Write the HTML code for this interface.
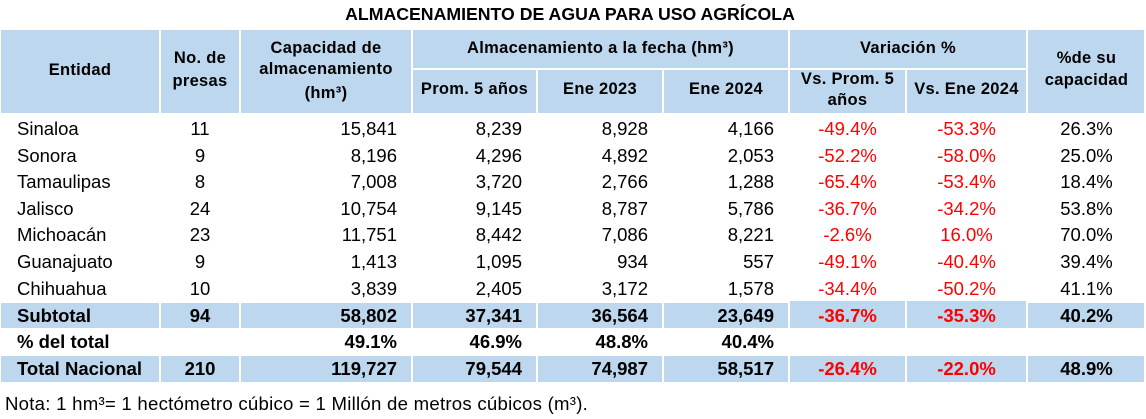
<!DOCTYPE html>
<html>
<head>
<meta charset="utf-8">
<style>
*{margin:0;padding:0;box-sizing:border-box}
html,body{width:1146px;height:419px;background:#fff;overflow:hidden}
body{position:relative;font-family:"Liberation Sans",Arial,sans-serif;color:#000}
.b{position:absolute;background:#BDD7EE}
.t{position:absolute;white-space:nowrap}
.h{position:absolute;font-weight:bold;font-size:16.5px;letter-spacing:0.3px;white-space:nowrap;text-align:center;line-height:22px;height:22px}
.row{position:absolute;left:0;width:1146px;font-size:18.5px}
.row span{position:absolute;top:0;height:100%;white-space:nowrap}
.c0{left:17px;width:140px;text-align:left}
.c1{left:160px;width:80px;text-align:center}
.c2{left:240px;width:157px;text-align:right}
.c3{left:412px;width:110px;text-align:right}
.c4{left:537px;width:111px;text-align:right}
.c5{left:663px;width:111px;text-align:right}
.c6{left:789px;width:117px;text-align:center}
.c7{left:906px;width:121px;text-align:center}
.c8{left:1027px;width:119px;text-align:center}
.r{color:#FF0000}
.bold{font-weight:bold}
</style>
</head>
<body>
<div class="t" style="left:0;width:1140px;top:3px;line-height:23px;font-size:17.7px;font-weight:bold;text-align:center;">ALMACENAMIENTO DE AGUA PARA USO AGRÍCOLA</div>

<!-- header backgrounds -->
<div class="b" style="left:1px;top:30px;width:158px;height:83px"></div>
<div class="b" style="left:161px;top:30px;width:78px;height:83px"></div>
<div class="b" style="left:241px;top:30px;width:170px;height:83px"></div>
<div class="b" style="left:413px;top:30px;width:375px;height:38px"></div>
<div class="b" style="left:413px;top:70px;width:123px;height:43px"></div>
<div class="b" style="left:538px;top:70px;width:124px;height:43px"></div>
<div class="b" style="left:664px;top:70px;width:124px;height:43px"></div>
<div class="b" style="left:790px;top:30px;width:236px;height:38px"></div>
<div class="b" style="left:790px;top:70px;width:115px;height:43px"></div>
<div class="b" style="left:907px;top:70px;width:119px;height:43px"></div>
<div class="b" style="left:1028px;top:30px;width:116px;height:83px"></div>

<!-- header text -->
<div class="h" style="left:0;width:160px;top:59px">Entidad</div>
<div class="h" style="left:160px;width:80px;top:47px">No. de</div>
<div class="h" style="left:160px;width:80px;top:70px">presas</div>
<div class="h" style="left:241px;width:170px;top:37px">Capacidad de</div>
<div class="h" style="left:241px;width:170px;top:58px">almacenamiento</div>
<div class="h" style="left:241px;width:170px;top:82px">(hm³)</div>
<div class="h" style="left:412px;width:377px;top:37px">Almacenamiento a la fecha (hm³)</div>
<div class="h" style="left:412px;width:125px;top:78px">Prom. 5 años</div>
<div class="h" style="left:537px;width:126px;top:78px">Ene 2023</div>
<div class="h" style="left:663px;width:126px;top:78px">Ene 2024</div>
<div class="h" style="left:789px;width:238px;top:37px">Variación %</div>
<div class="h" style="left:789px;width:117px;top:68px">Vs. Prom. 5</div>
<div class="h" style="left:789px;width:117px;top:89px">años</div>
<div class="h" style="left:906px;width:121px;top:78px">Vs. Ene 2024</div>
<div class="h" style="left:1027px;width:119px;top:47px">%de su</div>
<div class="h" style="left:1027px;width:119px;top:69px">capacidad</div>

<!-- body rows -->
<div class="row" style="top:116px;height:26.6px;line-height:26.6px">
<span class="c0">Sinaloa</span><span class="c1">11</span><span class="c2">15,841</span><span class="c3">8,239</span><span class="c4">8,928</span><span class="c5">4,166</span><span class="c6 r">-49.4%</span><span class="c7 r">-53.3%</span><span class="c8">26.3%</span>
</div>
<div class="row" style="top:142.6px;height:26.6px;line-height:26.6px">
<span class="c0">Sonora</span><span class="c1">9</span><span class="c2">8,196</span><span class="c3">4,296</span><span class="c4">4,892</span><span class="c5">2,053</span><span class="c6 r">-52.2%</span><span class="c7 r">-58.0%</span><span class="c8">25.0%</span>
</div>
<div class="row" style="top:169.2px;height:26.6px;line-height:26.6px">
<span class="c0">Tamaulipas</span><span class="c1">8</span><span class="c2">7,008</span><span class="c3">3,720</span><span class="c4">2,766</span><span class="c5">1,288</span><span class="c6 r">-65.4%</span><span class="c7 r">-53.4%</span><span class="c8">18.4%</span>
</div>
<div class="row" style="top:195.8px;height:26.6px;line-height:26.6px">
<span class="c0">Jalisco</span><span class="c1">24</span><span class="c2">10,754</span><span class="c3">9,145</span><span class="c4">8,787</span><span class="c5">5,786</span><span class="c6 r">-36.7%</span><span class="c7 r">-34.2%</span><span class="c8">53.8%</span>
</div>
<div class="row" style="top:222.4px;height:26.6px;line-height:26.6px">
<span class="c0">Michoacán</span><span class="c1">23</span><span class="c2">11,751</span><span class="c3">8,442</span><span class="c4">7,086</span><span class="c5">8,221</span><span class="c6 r">-2.6%</span><span class="c7 r">16.0%</span><span class="c8">70.0%</span>
</div>
<div class="row" style="top:249px;height:26.6px;line-height:26.6px">
<span class="c0">Guanajuato</span><span class="c1">9</span><span class="c2">1,413</span><span class="c3">1,095</span><span class="c4">934</span><span class="c5">557</span><span class="c6 r">-49.1%</span><span class="c7 r">-40.4%</span><span class="c8">39.4%</span>
</div>
<div class="row" style="top:275.6px;height:26.6px;line-height:26.6px">
<span class="c0">Chihuahua</span><span class="c1">10</span><span class="c2">3,839</span><span class="c3">2,405</span><span class="c4">3,172</span><span class="c5">1,578</span><span class="c6 r">-34.4%</span><span class="c7 r">-50.2%</span><span class="c8">41.1%</span>
</div>

<!-- subtotal backgrounds -->
<div class="b" style="left:1px;top:303px;width:158px;height:25px"></div>
<div class="b" style="left:161px;top:303px;width:78px;height:25px"></div>
<div class="b" style="left:241px;top:303px;width:170px;height:25px"></div>
<div class="b" style="left:413px;top:303px;width:123px;height:25px"></div>
<div class="b" style="left:538px;top:303px;width:124px;height:25px"></div>
<div class="b" style="left:664px;top:303px;width:124px;height:25px"></div>
<div class="b" style="left:790px;top:301px;width:115px;height:27px"></div>
<div class="b" style="left:907px;top:301px;width:119px;height:27px"></div>
<div class="b" style="left:1028px;top:303px;width:116px;height:25px"></div>

<!-- total backgrounds -->
<div class="b" style="left:1px;top:356px;width:158px;height:26px"></div>
<div class="b" style="left:161px;top:356px;width:78px;height:26px"></div>
<div class="b" style="left:241px;top:356px;width:170px;height:26px"></div>
<div class="b" style="left:413px;top:356px;width:123px;height:26px"></div>
<div class="b" style="left:538px;top:356px;width:124px;height:26px"></div>
<div class="b" style="left:664px;top:356px;width:124px;height:26px"></div>
<div class="b" style="left:790px;top:356px;width:115px;height:26px"></div>
<div class="b" style="left:907px;top:356px;width:119px;height:26px"></div>
<div class="b" style="left:1028px;top:356px;width:116px;height:26px"></div>

<div class="row bold" style="top:302.5px;height:26px;line-height:26px">
<span class="c0">Subtotal</span><span class="c1">94</span><span class="c2">58,802</span><span class="c3">37,341</span><span class="c4">36,564</span><span class="c5">23,649</span><span class="c6 r">-36.7%</span><span class="c7 r">-35.3%</span><span class="c8">40.2%</span>
</div>
<div class="row bold" style="top:329px;height:26px;line-height:26px">
<span class="c0">% del total</span><span class="c2">49.1%</span><span class="c3">46.9%</span><span class="c4">48.8%</span><span class="c5">40.4%</span>
</div>
<div class="row bold" style="top:356px;height:26px;line-height:26px">
<span class="c0">Total Nacional</span><span class="c1">210</span><span class="c2">119,727</span><span class="c3">79,544</span><span class="c4">74,987</span><span class="c5">58,517</span><span class="c6 r">-26.4%</span><span class="c7 r">-22.0%</span><span class="c8">48.9%</span>
</div>

<div class="t" style="left:5px;top:391px;line-height:26px;font-size:18.6px;letter-spacing:0.25px;">Nota: 1 hm³= 1 hectómetro cúbico = 1 Millón de metros cúbicos (m³).</div>
</body>
</html>
